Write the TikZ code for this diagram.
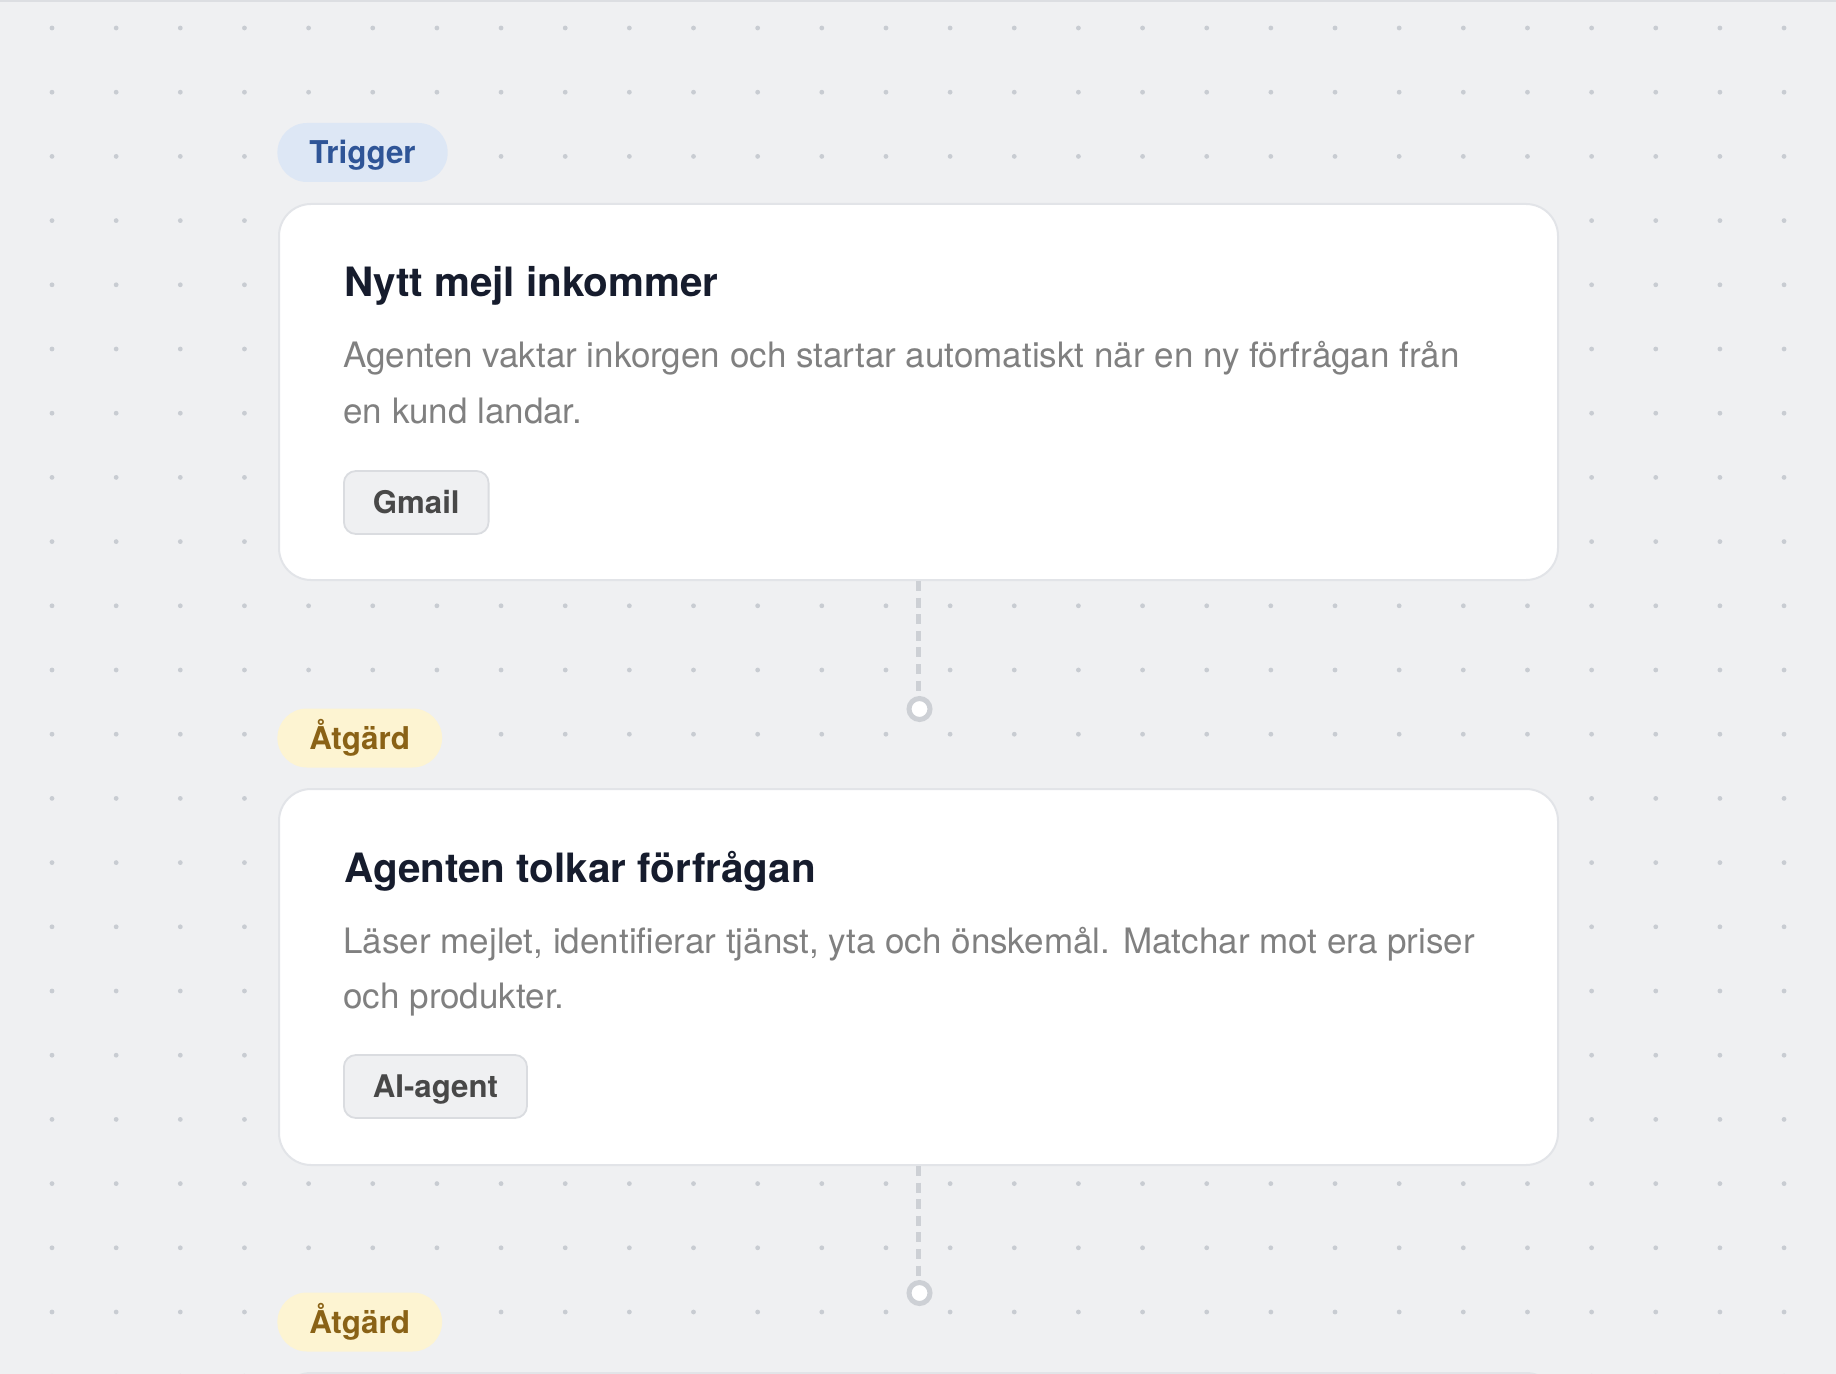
\documentclass[tikz,border=0pt]{standalone}
\usepackage{fontspec}
\setmainfont{TeX Gyre Heros}
\definecolor{bgc}{RGB}{239,240,242}
\definecolor{dotc}{RGB}{200,204,210}
\definecolor{topln}{RGB}{220,222,226}
\definecolor{cardln}{RGB}{226,228,232}
\definecolor{titlec}{RGB}{22,28,45}
\definecolor{bodyc}{RGB}{128,128,128}
\definecolor{trigbg}{RGB}{221,231,245}
\definecolor{trigfg}{RGB}{47,85,151}
\definecolor{actbg}{RGB}{253,244,210}
\definecolor{actfg}{RGB}{138,98,22}
\definecolor{chipbg}{RGB}{239,240,242}
\definecolor{chipln}{RGB}{218,220,224}
\definecolor{chipfg}{RGB}{72,72,72}
\definecolor{linkc}{RGB}{205,208,213}
\begin{document}
\begin{tikzpicture}[x=0.5pt,y=-0.5pt,
  card/.style={rounded corners=16pt, fill=white, draw=cardln, line width=1pt, inner sep=0pt, anchor=north west, minimum width=639.5pt, minimum height=188pt},
  title/.style={anchor=base west, inner sep=0pt, font=\fontsize{20.2pt}{24pt}\selectfont\bfseries, text=titlec},
  bodytext/.style={anchor=base west, inner sep=0pt, font=\fontsize{17.5pt}{21pt}\selectfont, text=bodyc},
  pill/.style={anchor=west, inner xsep=16pt, minimum height=29.5pt, rounded corners=14.75pt, text height=11.2pt, text depth=0pt, font=\fontsize{15.7pt}{18pt}\selectfont\bfseries},
  trigpill/.style={pill, fill=trigbg, text=trigfg},
  actpill/.style={pill, fill=actbg, text=actfg},
  chip/.style={anchor=west, inner xsep=14.5pt, minimum height=31.5pt, rounded corners=6pt, fill=chipbg, draw=chipln, line width=0.9pt, text=chipfg, text height=11pt, text depth=0pt, font=\fontsize{15.6pt}{18pt}\selectfont\bfseries},
  link/.style={draw=linkc, line width=2.5pt, dash pattern=on 5pt off 3.3pt},
  port/.style={circle, draw=linkc, fill=white, line width=2.5pt, minimum size=10.5pt, inner sep=0pt}
]
\useasboundingbox[fill=bgc] (0,0) rectangle (1836,1374);
\begin{scope}
\clip (0,0) rectangle (1836,1374);
\draw[topln, line width=1pt] (0,1) -- (1836,1);
\foreach \i in {0,...,27}{
  \foreach \j in {0,...,21}{
    \fill[dotc] ({52+64.15*\i},{28+64.2*\j}) circle[radius=2.4];
  }
}
% connectors' end points
\node[port] (port1) at (919.5,709) {};
\node[port] (port2) at (919.5,1293) {};
% cards
\node[card] (card1) at (278,203) {};
\node[card] (card2) at (278,788) {};
\node[card] (card3) at (278,1372) {};
\draw[link] (card1.south) -- (card1.south |- port1.north);
\draw[link] (card2.south) -- (card2.south |- port2.north);
% tags
\node[trigpill] (tag1) at (277,152.5) {Trigger};
\node[actpill] (tag2) at (277,738) {Åtgärd};
\node[actpill] (tag3) at (277,1322) {Åtgärd};
% card 1
\node[title] (t1) at (344,297) {Nytt mejl inkommer};
\node[bodytext] (b1a) at (343,368) {Agenten vaktar inkorgen och startar automatiskt när en ny förfrågan från};
\node[bodytext] (b1b) at (343,423) {en kund landar.};
\node[chip] (c1) at (343,502.5) {Gmail};
% card 2
\node[title] (t2) at (344,882) {Agenten tolkar förfrågan};
\node[bodytext] (b2a) at (343,953) {Läser mejlet, identifierar tjänst, yta och önskemål. Matchar mot era priser};
\node[bodytext] (b2b) at (343,1008) {och produkter.};
\node[chip] (c2) at (343,1086.5) {AI-agent};
\end{scope}
\end{tikzpicture}
\end{document}
